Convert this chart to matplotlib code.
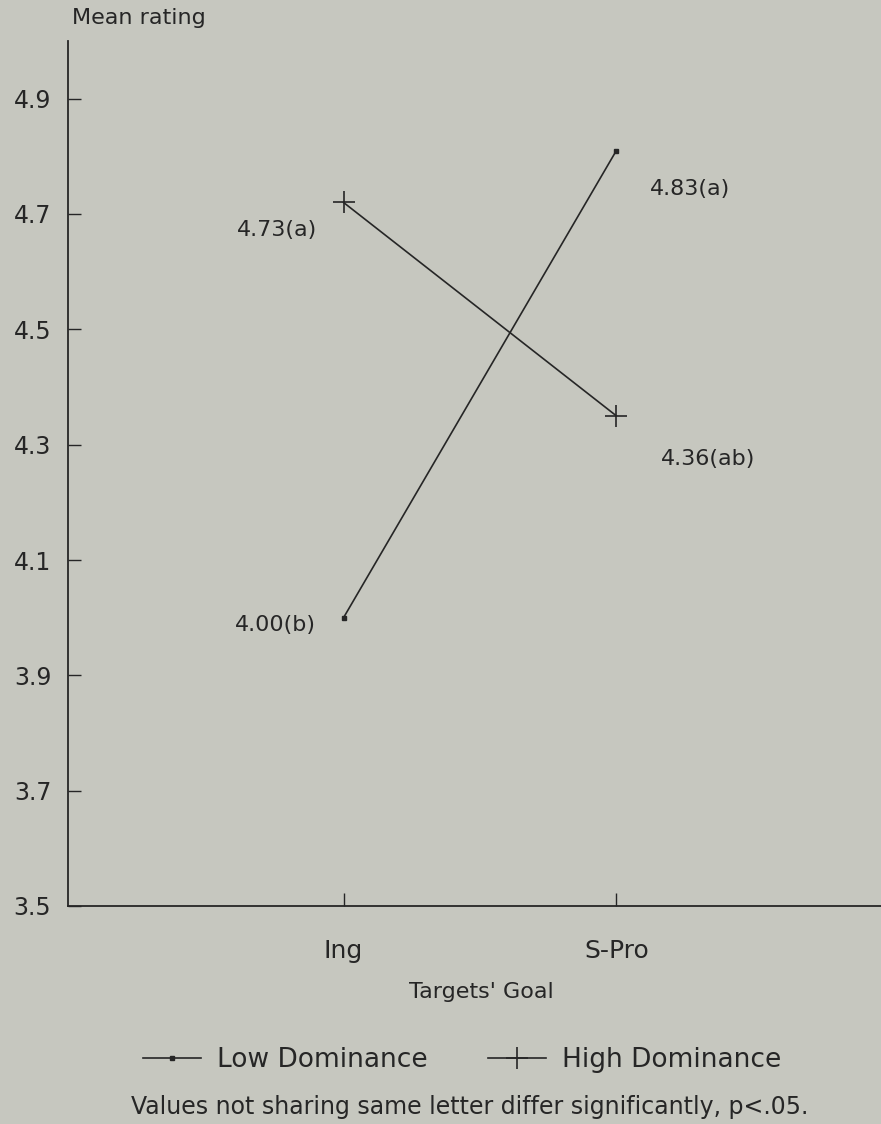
import numpy as np
import matplotlib.pyplot as plt

goals = ['Ing', 'S-Pro']
# plotted positions
low_dom = [4.00, 4.81]
high_dom = [4.72, 4.35]
low_labels = ['4.00(b)', '4.83(a)']
high_labels = ['4.73(a)', '4.36(ab)']
yticks = [3.5, 3.7, 3.9, 4.1, 4.3, 4.5, 4.7, 4.9]

plt.rcParams['font.family'] = 'DejaVu Sans'
bg = '#c6c7bf'
ink = '#262626'

W, H = 881, 1124
fig = plt.figure(figsize=(W / 100, H / 100), dpi=100, facecolor=bg)
ax = fig.add_axes([68 / W, 1 - 906 / H, 1 - 68 / W, (906 - 41) / H])
ax.set_facecolor(bg)

x = np.arange(1, len(goals) + 1)
ax.plot(x, low_dom, color=ink, lw=1.2, marker='s', ms=3.5, label='Low Dominance')
ax.plot(x, high_dom, color=ink, lw=1.2, marker='+', ms=16, mew=1.2, label='High Dominance')

# value labels
off_low = [(-28, -7), (34, -38)]
off_high = [(-26, -28), (45, -43)]
for i in range(len(goals)):
    ha = 'right' if i == 0 else 'left'
    ax.annotate(low_labels[i], (x[i], low_dom[i]), xytext=off_low[i], textcoords='offset pixels',
                ha=ha, va='center', fontsize=16, color=ink)
    ax.annotate(high_labels[i], (x[i], high_dom[i]), xytext=off_high[i], textcoords='offset pixels',
                ha=ha, va='center', fontsize=16, color=ink)

ax.set_xlim(-0.01, 2.97)
ax.set_ylim(3.5, 5.0)
ax.set_xticks(x)
ax.set_xticklabels(goals, fontsize=18, color=ink)
ax.set_yticks(yticks)
ax.set_yticklabels(['%.1f' % v for v in yticks], fontsize=17, color=ink)
ax.tick_params(axis='both', direction='in', length=9.5, width=1.0, color=ink)
ax.tick_params(axis='x', pad=24)
ax.tick_params(axis='y', pad=12)
for s in ['top', 'right']:
    ax.spines[s].set_visible(False)
for s in ['left', 'bottom']:
    ax.spines[s].set_color(ink)
    ax.spines[s].set_linewidth(1.3)

fig.text(72 / W, 1 - 18 / H, 'Mean rating', fontsize=16, va='center', color=ink)
fig.text(481 / W, 1 - 992 / H, "Targets' Goal", fontsize=16, ha='center', va='center', color=ink)
fig.legend(loc='center', bbox_to_anchor=(462 / W, 1 - 1060 / H), ncol=2, frameon=False,
           fontsize=19, handlelength=2.2, handletextpad=0.6, columnspacing=2.3, labelcolor=ink)
fig.text(470 / W, 1 - 1107 / H, 'Values not sharing same letter differ significantly, p<.05.',
         fontsize=17, ha='center', va='center', color=ink)

fig.savefig('out.png', dpi=100, facecolor=bg)
